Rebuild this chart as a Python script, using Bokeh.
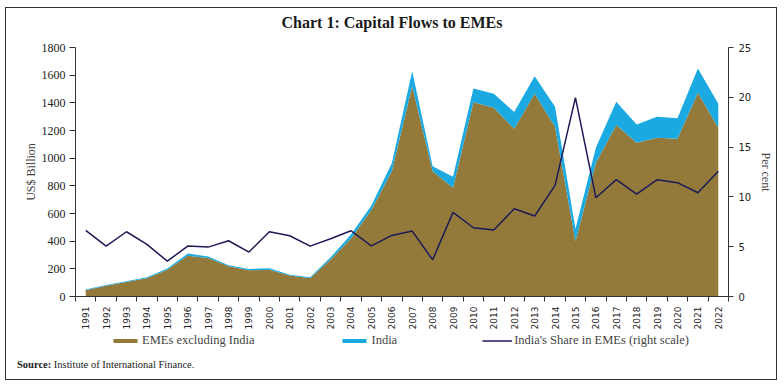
import math
from bokeh.plotting import figure
from bokeh.models import (Range1d, LinearAxis, FixedTicker, Legend, LegendItem,
                          ColumnDataSource, Div)
from bokeh.layouts import column
from bokeh.embed import file_html
from bokeh.resources import INLINE

years = list(range(1991, 2023))
emes_ex_india = [46, 78, 104, 132, 193, 294, 278, 218, 189, 194, 151, 132, 268, 420,
                 625, 905, 1520, 906, 786, 1405, 1364, 1212, 1465, 1227, 400, 966,
                 1239, 1111, 1147, 1140, 1472, 1219]
india = [5, 5, 7, 8, 9, 16, 11, 8, 9, 11, 6, 8, 15, 28, 32, 58, 109, 36, 79, 99,
         101, 121, 128, 144, 88, 109, 168, 132, 152, 149, 176, 174]
india_share = [6.64, 5.06, 6.50, 5.23, 3.55, 5.06, 4.96, 5.60, 4.46, 6.50, 6.10,
               5.06, 5.80, 6.60, 5.09, 6.13, 6.57, 3.69, 8.45, 6.90, 6.67, 8.81,
               8.08, 11.16, 19.97, 9.92, 11.73, 10.29, 11.73, 11.43, 10.42, 12.57]
left_ticks = [0, 200, 400, 600, 800, 1000, 1200, 1400, 1600, 1800]
right_ticks = [0, 5, 10, 15, 20, 25]
series_names = ["EMEs excluding India", "India", "India's Share in EMEs (right scale)"]

BROWN = "#937A3A"
BLUE = "#1AA9E1"
NAVY = "#1C1A57"
AX = "#333333"
BORDER = "1px solid #333"

total = [a + b for a, b in zip(emes_ex_india, india)]
src = ColumnDataSource(dict(x=years, emes=emes_ex_india, total=total, share=india_share))

# title strip
title_div = Div(
    text='<div style="text-align:center;font-family:\'Liberation Serif\';'
         'font-weight:bold;font-size:16px;line-height:16px;padding-top:7px;'
         'color:#1a1a1a;width:772px">Chart 1: Capital Flows to EMEs</div>',
    width=772, height=26, margin=0,
    styles={"border": BORDER, "border-bottom": "none"})

p = figure(width=772, height=301, output_backend="svg", toolbar_location=None,
           x_range=Range1d(years[0] - 0.5, years[-1] + 0.5),
           y_range=Range1d(0, 1800),
           min_border_left=69, min_border_right=50, min_border_top=14,
           min_border_bottom=38,
           styles={"border-left": BORDER, "border-right": BORDER})
p.extra_y_ranges = {"pct": Range1d(0, 25)}

p.outline_line_color = None
p.grid.visible = False

p.varea(x="x", y1=0, y2="emes", source=src, fill_color=BROWN)
p.varea(x="x", y1="emes", y2="total", source=src, fill_color=BLUE)
p.line(x="x", y="share", source=src, line_color=NAVY, line_width=1.5,
       y_range_name="pct")

# x axis
xa = p.xaxis[0]
xa.ticker = FixedTicker(ticks=years, minor_ticks=[y - 0.5 for y in years] + [years[-1] + 0.5])
xa.major_label_overrides = {y: str(y) for y in years}
xa.major_label_orientation = math.pi / 2
xa.major_tick_out = 0
xa.major_tick_in = 0
xa.minor_tick_out = 5
xa.minor_tick_in = 0
xa.major_label_standoff = 5
xa.major_label_text_font = "DejaVu Sans"
xa.major_label_text_font_size = "9px"
xa.major_label_text_color = "#222222"
xa.axis_line_color = AX
xa.minor_tick_line_color = AX

# left axis
ya = p.yaxis[0]
ya.ticker = FixedTicker(ticks=left_ticks)
ya.minor_tick_line_color = None
ya.major_tick_out = 6
ya.major_tick_in = 0
ya.major_label_standoff = 4
ya.major_label_text_font = "Liberation Serif"
ya.major_label_text_font_size = "12px"
ya.major_label_text_color = "#222222"
ya.axis_label = "US$ Billion"
ya.axis_label_text_font = "Liberation Serif"
ya.axis_label_text_font_style = "normal"
ya.axis_label_text_font_size = "12px"
ya.axis_label_standoff = 1
ya.axis_line_color = AX
ya.major_tick_line_color = AX

# right axis
ra = LinearAxis(y_range_name="pct", ticker=FixedTicker(ticks=right_ticks))
ra.minor_tick_line_color = None
ra.major_tick_out = 5
ra.major_tick_in = 0
ra.major_label_standoff = 5
ra.major_label_text_font = "DejaVu Sans"
ra.major_label_text_font_size = "10px"
ra.major_label_text_color = "#222222"
ra.axis_label = "Per cent"
ra.axis_label_text_font = "Liberation Serif"
ra.axis_label_text_font_style = "normal"
ra.axis_label_text_font_size = "12px"
ra.axis_label_standoff = 5
ra.axis_line_color = AX
ra.major_tick_line_color = AX
p.add_layout(ra, "right")

# legend strip (legend swatches come from off-screen stand-in renderers)
q = figure(width=772, height=20, output_backend="svg", toolbar_location=None,
           x_range=Range1d(0, 1), y_range=Range1d(0, 1),
           x_axis_location=None, y_axis_location=None,
           min_border=0, min_border_left=0, min_border_right=0,
           min_border_top=0, min_border_bottom=0,
           styles={"border-left": BORDER, "border-right": BORDER})
q.outline_line_color = None
q.grid.visible = False
lr1 = q.varea(x=[5, 6], y1=[5, 5], y2=[6, 6], fill_color=BROWN)
lr2 = q.varea(x=[5, 6], y1=[5, 5], y2=[6, 6], fill_color=BLUE)
lr3 = q.line(x=[5, 6], y=[5, 6], line_color=NAVY, line_width=1.5)

legend = Legend(items=[
    LegendItem(label=series_names[0], renderers=[lr1]),
    LegendItem(label=series_names[1], renderers=[lr2]),
    LegendItem(label=series_names[2], renderers=[lr3]),
], orientation="horizontal", location=(35, 6), glyph_width=30, glyph_height=5,
    label_standoff=2, spacing=85, padding=0, margin=0, border_line_alpha=0,
    background_fill_alpha=0, label_text_font="Liberation Serif",
    label_text_font_size="12.5px", label_height=14)
q.add_layout(legend, "center")

source_div = Div(
    text='<div style="padding-left:11px;padding-top:5px;font-family:\'Liberation Serif\';'
         'font-size:10.5px;line-height:12px;color:#1a1a1a;white-space:nowrap">'
         '<b>Source:</b> Institute of International Finance.</div>',
    width=772, height=26, margin=0,
    styles={"border": BORDER, "border-top": "none"})

layout = column(title_div, p, q, source_div, spacing=0, margin=(7, 0, 0, 5))

open("out.html", "w").write(file_html(layout, INLINE))
